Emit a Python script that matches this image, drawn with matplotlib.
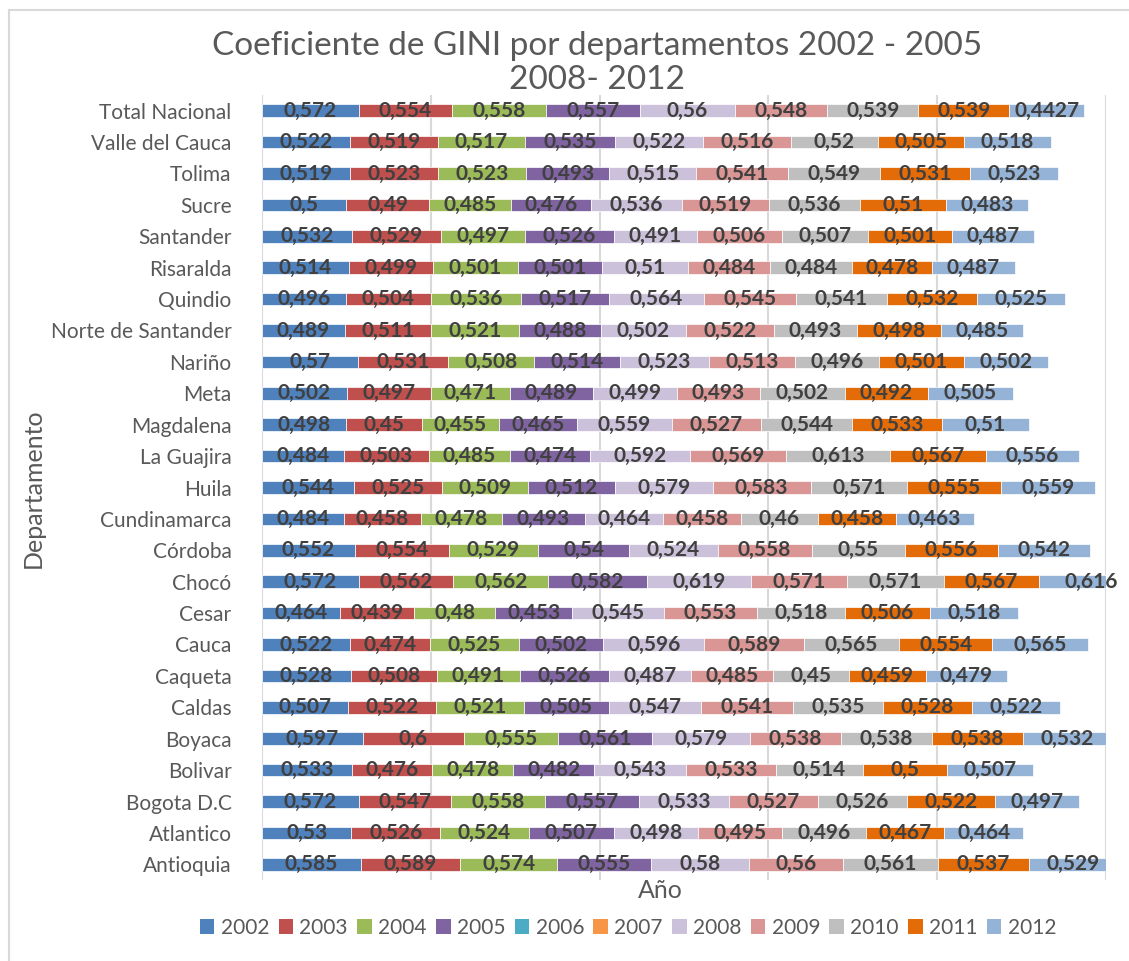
import numpy as np
import matplotlib
matplotlib.use("Agg")
import matplotlib.pyplot as plt
from matplotlib.patches import Patch
from matplotlib.lines import Line2D

plt.rcParams['font.family'] = ['Lato', 'DejaVu Sans']

# departments, top to bottom as in the chart
departamentos = ['Total Nacional', 'Valle del Cauca', 'Tolima', 'Sucre', 'Santander',
                 'Risaralda', 'Quindio', 'Norte de Santander', 'Nariño', 'Meta',
                 'Magdalena', 'La Guajira', 'Huila', 'Cundinamarca', 'Córdoba',
                 'Chocó', 'Cesar', 'Cauca', 'Caqueta', 'Caldas', 'Boyaca',
                 'Bolivar', 'Bogota D.C', 'Atlantico', 'Antioquia']

# GINI per year (same order as departamentos)
v2002 = [0.572, 0.522, 0.519, 0.5, 0.532, 0.514, 0.496, 0.489, 0.57, 0.502, 0.498, 0.484, 0.544,
         0.484, 0.552, 0.572, 0.464, 0.522, 0.528, 0.507, 0.597, 0.533, 0.572, 0.53, 0.585]
v2003 = [0.554, 0.519, 0.523, 0.49, 0.529, 0.499, 0.504, 0.511, 0.531, 0.497, 0.45, 0.503, 0.525,
         0.458, 0.554, 0.562, 0.439, 0.474, 0.508, 0.522, 0.6, 0.476, 0.547, 0.526, 0.589]
v2004 = [0.558, 0.517, 0.523, 0.485, 0.497, 0.501, 0.536, 0.521, 0.508, 0.471, 0.455, 0.485, 0.509,
         0.478, 0.529, 0.562, 0.48, 0.525, 0.491, 0.521, 0.555, 0.478, 0.558, 0.524, 0.574]
v2005 = [0.557, 0.535, 0.493, 0.476, 0.526, 0.501, 0.517, 0.488, 0.514, 0.489, 0.465, 0.474, 0.512,
         0.493, 0.54, 0.582, 0.453, 0.502, 0.526, 0.505, 0.561, 0.482, 0.557, 0.507, 0.555]
v2006 = []
v2007 = []
v2008 = [0.56, 0.522, 0.515, 0.536, 0.491, 0.51, 0.564, 0.502, 0.523, 0.499, 0.559, 0.592, 0.579,
         0.464, 0.524, 0.619, 0.545, 0.596, 0.487, 0.547, 0.579, 0.543, 0.533, 0.498, 0.58]
v2009 = [0.548, 0.516, 0.541, 0.519, 0.506, 0.484, 0.545, 0.522, 0.513, 0.493, 0.527, 0.569, 0.583,
         0.458, 0.558, 0.571, 0.553, 0.589, 0.485, 0.541, 0.538, 0.533, 0.527, 0.495, 0.56]
v2010 = [0.539, 0.52, 0.549, 0.536, 0.507, 0.484, 0.541, 0.493, 0.496, 0.502, 0.544, 0.613, 0.571,
         0.46, 0.55, 0.571, 0.518, 0.565, 0.45, 0.535, 0.538, 0.514, 0.526, 0.496, 0.561]
v2011 = [0.539, 0.505, 0.531, 0.51, 0.501, 0.478, 0.532, 0.498, 0.501, 0.492, 0.533, 0.567, 0.555,
         0.458, 0.556, 0.567, 0.506, 0.554, 0.459, 0.528, 0.538, 0.5, 0.522, 0.467, 0.537]
v2012 = [0.4427, 0.518, 0.523, 0.483, 0.487, 0.487, 0.525, 0.485, 0.502, 0.505, 0.51, 0.556, 0.559,
         0.463, 0.542, 0.616, 0.518, 0.565, 0.479, 0.522, 0.532, 0.507, 0.497, 0.464, 0.529]

years = ['2002', '2003', '2004', '2005', '2006', '2007', '2008', '2009', '2010', '2011', '2012']
series = [v2002, v2003, v2004, v2005, v2006, v2007, v2008, v2009, v2010, v2011, v2012]
colors = ['#4F81BD', '#C0504D', '#9BBB59', '#8064A2', '#4BACC6', '#F79646',
          '#CCC1DA', '#D99694', '#BFBFBF', '#E36C09', '#95B3D7']

W, H = 1129, 961
fig = plt.figure(figsize=(W / 100, H / 100), dpi=100)
ax = fig.add_axes([262 / W, 81 / H, (1106 - 262) / W, 785 / H])

n = len(departamentos)
y = np.arange(n)[::-1]
left = np.zeros(n)
for vals, col in zip(series, colors):
    if not vals:
        continue
    vals = np.array(vals)
    ax.barh(y, vals, left=left, height=0.4, color=col, edgecolor='white', linewidth=0.5, zorder=2)
    for yi, li, v in zip(y, left, vals):
        ax.text(li + v / 2, yi, f"{v:g}".replace('.', ','), ha='center', va='center',
                fontsize=15, fontweight='bold', color='#404040', zorder=3)
    left += vals

ax.set_xlim(0, 5.0)
ax.set_ylim(-0.5, n - 0.5)
ax.set_xticks(np.arange(0, 6))
ax.set_xticklabels([])
ax.set_yticks(y)
ax.set_yticklabels(departamentos, fontsize=15, color='#595959')
ax.tick_params(length=0, pad=22)
ax.grid(axis='x', color='#D9D9D9', linewidth=1.5, zorder=0)
ax.set_axisbelow(True)
for s in ax.spines.values():
    s.set_visible(False)

fig.text(597 / W, 1 - 63 / H, 'Coeficiente de GINI por departamentos 2002 - 2005\n2008- 2012',
         ha='center', va='center', fontsize=24, color='#595959', linespacing=1.2)
fig.text(660 / W, 1 - 890 / H, 'Año', ha='center', va='center', fontsize=18, color='#595959')
fig.text(33 / W, 1 - 488 / H, 'Departamento', ha='center', va='center', rotation=90,
         fontsize=18, color='#595959')

handles = [Patch(facecolor=c, label=yr) for yr, c in zip(years, colors)]
leg = fig.legend(handles=handles, loc='center', bbox_to_anchor=(628 / W, 1 - 928 / H), ncol=11,
                 frameon=False, fontsize=15, handlelength=0.7, handleheight=0.7,
                 handletextpad=0.3, columnspacing=0.45)
for t in leg.get_texts():
    t.set_color('#595959')

# chart area border
fig.add_artist(Line2D([9 / W, 1], [1 - 10 / H, 1 - 10 / H], transform=fig.transFigure,
                      color='#D9D9D9', linewidth=1.5))
fig.add_artist(Line2D([9 / W, 9 / W], [0, 1 - 10 / H], transform=fig.transFigure,
                      color='#D9D9D9', linewidth=1.5))

fig.savefig('out.png', dpi=100)
